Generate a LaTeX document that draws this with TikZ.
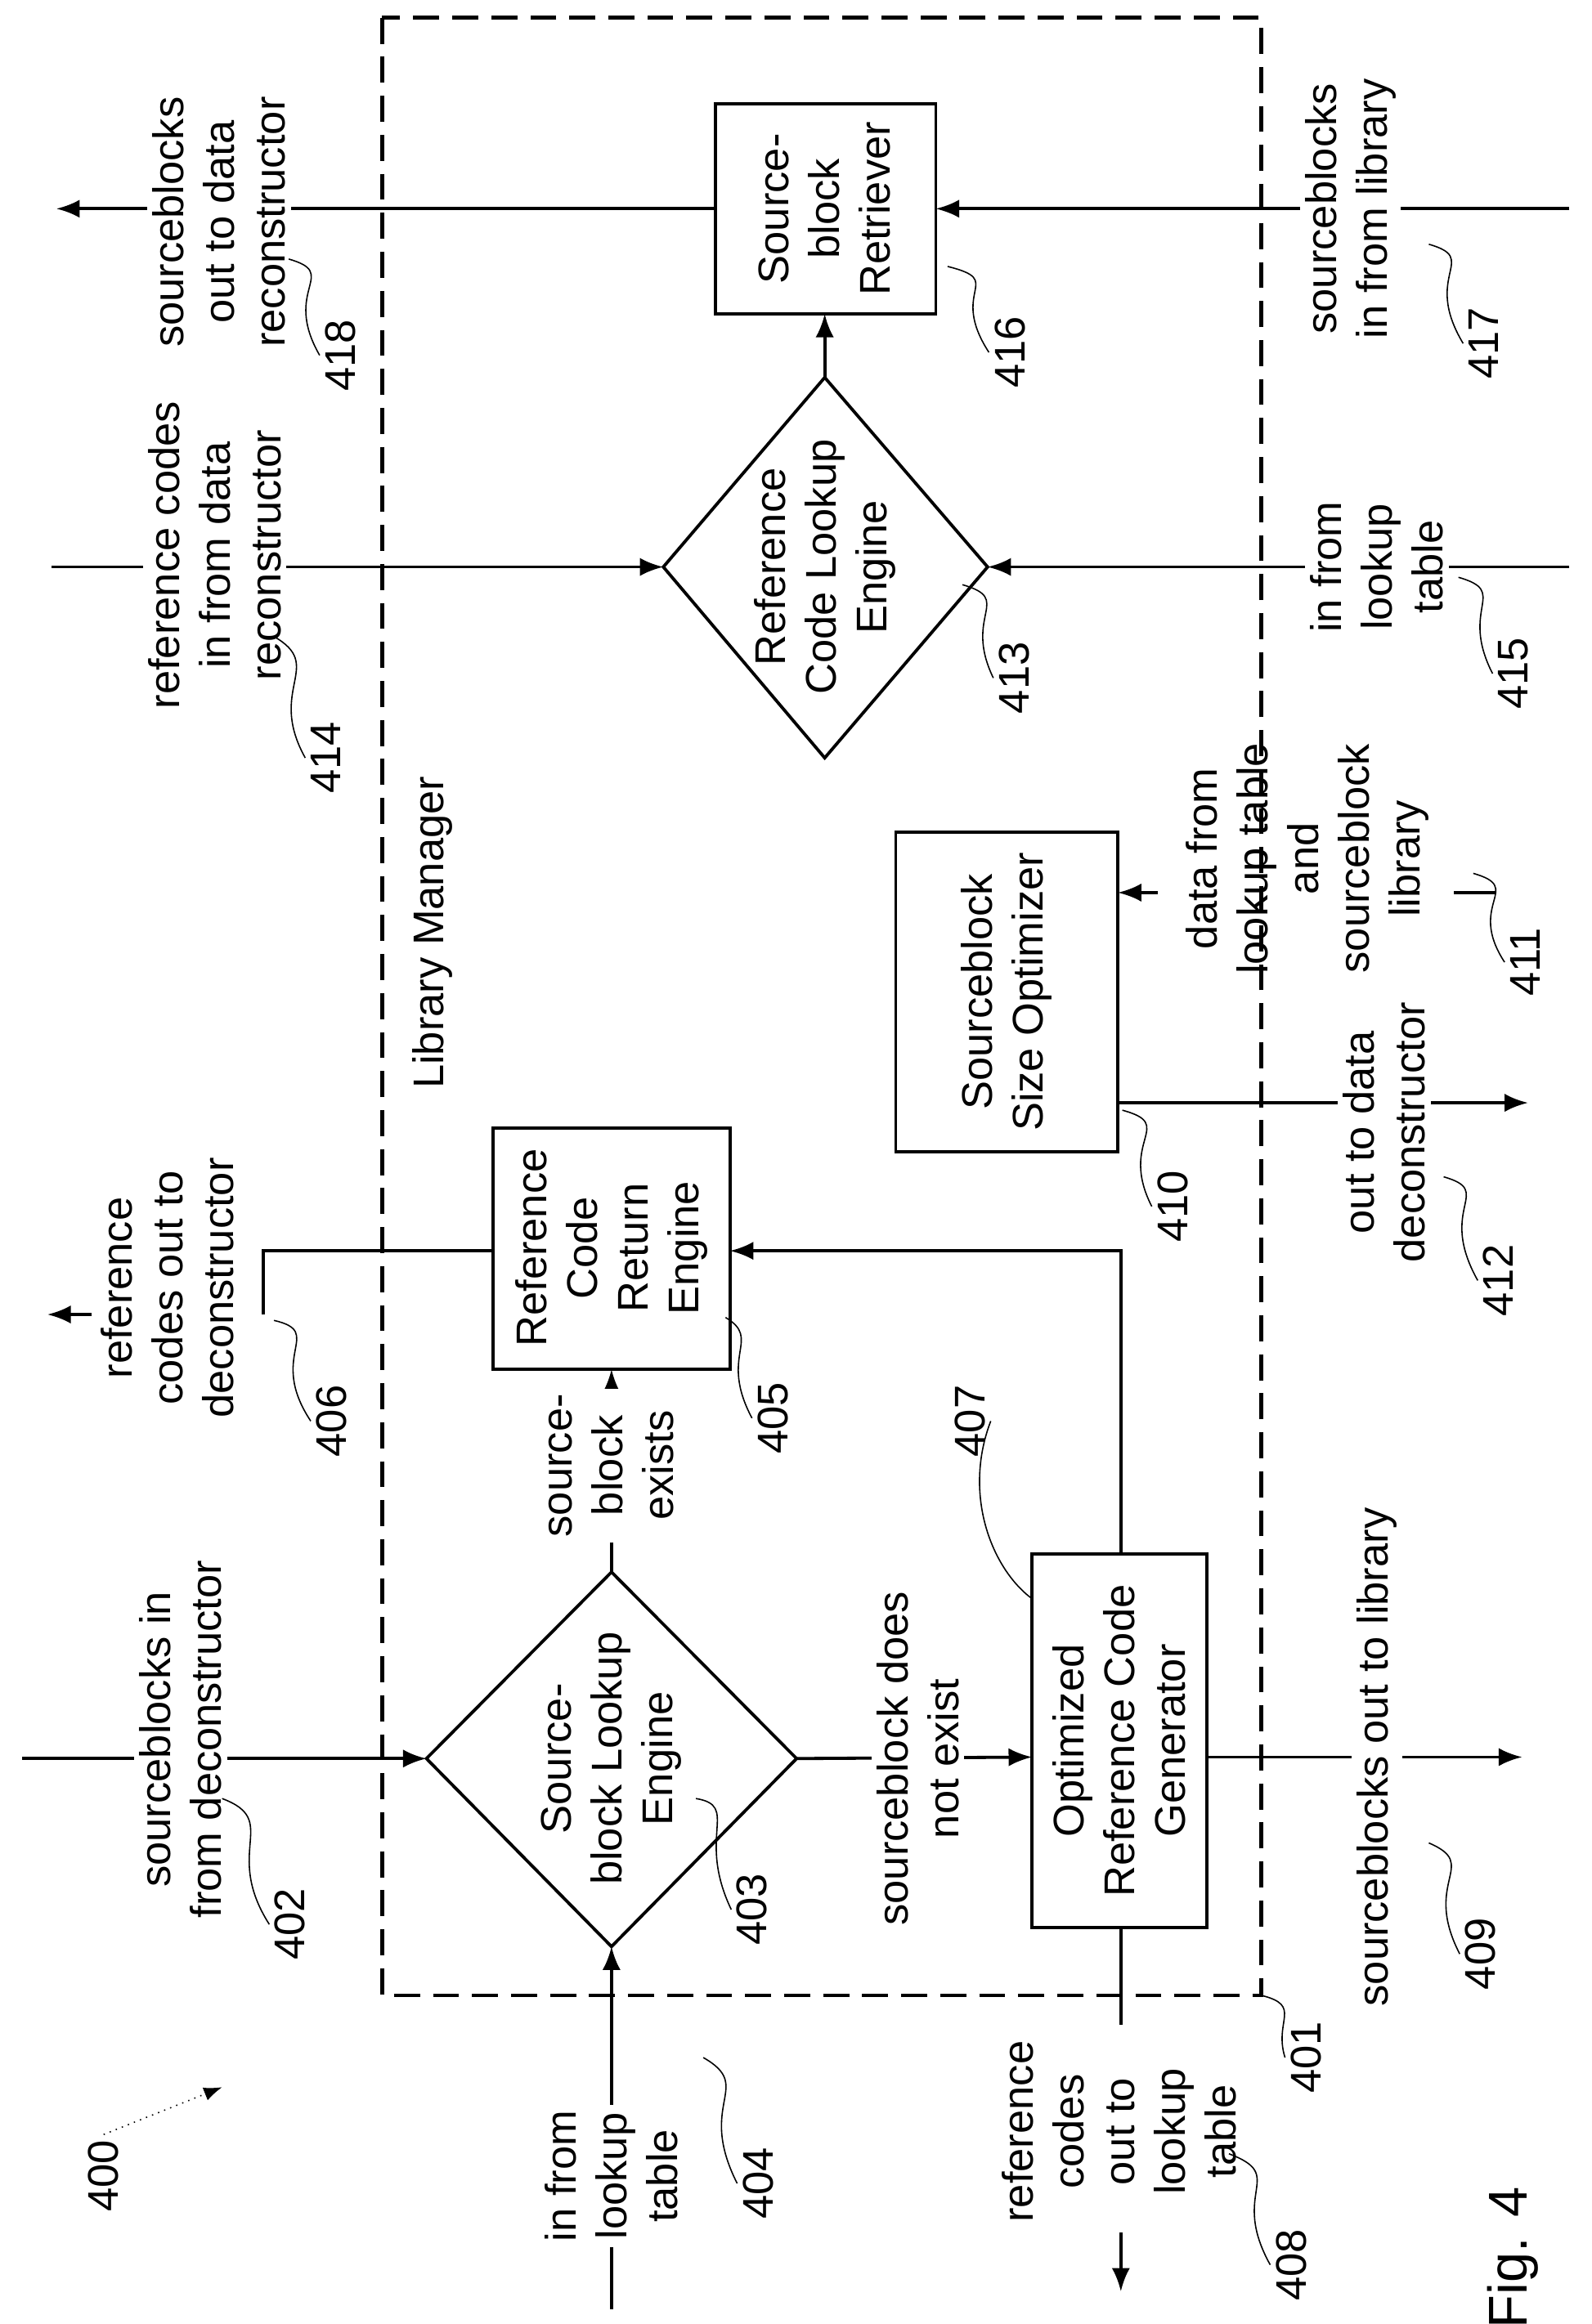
\documentclass[tikz,border=0pt]{standalone}
\usepackage{fontspec}
\setmainfont{Liberation Sans}
\usetikzlibrary{shapes.geometric,arrows.meta}
\begin{document}
\begin{tikzpicture}[x=0.02cm,y=-0.02cm,
  every node/.style={font=\fontsize{16.5}{19.5}\selectfont},
  txt/.style={rotate=90,align=center,inner sep=2pt},
  wtxt/.style={txt,fill=white},
  arr/.style={line width=1.2pt,-{Latex[length=9pt,width=7pt]}},
  ln/.style={line width=1.2pt},
  sq/.style={line width=0.5pt}]
\useasboundingbox (0,0) rectangle (1075,1570);
% library manager
\draw[line width=1.5pt,dash pattern=on 10pt off 5pt] (258,12) rectangle (852,1348);
\node[txt] (lm) at (292,630) {Library Manager};
% boxes
\draw[ln] (483,70) rectangle (632,212);
\node[txt] (b416) at (557,141) {Source-\\block\\Retriever};
\coordinate (b416l) at (483,141); \coordinate (b416r) at (632,141); \coordinate (b416b) at (557,212);
\draw[ln] (333,762) rectangle (493,925);
\node[txt] (b405) at (413,843) {Reference\\Code\\Return\\Engine};
\coordinate (b405l) at (333,845); \coordinate (b405r) at (493,845); \coordinate (b405b) at (413,925);
\draw[ln] (605,562) rectangle (755,778);
\node[txt] (b410) at (680,670) {Sourceblock\\Size Optimizer};
\coordinate (b410a) at (755,745); \coordinate (b410b) at (755,603);
\draw[ln] (697,1050) rectangle (815,1302);
\node[txt] (b407) at (756,1176) {Optimized\\Reference Code\\Generator};
\coordinate (b407t) at (757,1050); \coordinate (b407l) at (697,1187); \coordinate (b407r) at (815,1187); \coordinate (b407b) at (757,1302);
% diamonds
\draw[ln] (288,1188) -- (413,1062) -- (538,1188) -- (413,1315) -- cycle;
\node[txt] (d403) at (413,1188) {Source-\\block Lookup\\Engine};
\coordinate (d403l) at (288,1188); \coordinate (d403t) at (413,1062); \coordinate (d403r) at (538,1188); \coordinate (d403b) at (413,1315);
\draw[ln] (448,383) -- (557,255) -- (667,383) -- (557,512) -- cycle;
\node[txt] (d413) at (557,383) {Reference\\Code Lookup\\Engine};
\coordinate (d413l) at (448,383); \coordinate (d413t) at (557,255); \coordinate (d413r) at (667,383);
% free ends
\coordinate (e1) at (15,1188); \coordinate (e2) at (413,1560);
\coordinate (c1) at (757,845); \coordinate (c2) at (178,845); \coordinate (c3) at (178,888);
\coordinate (a1) at (62,888); \coordinate (a2) at (32,888);
\coordinate (e3) at (1028,1187);
\coordinate (c4) at (757,1368); \coordinate (a3) at (757,1508); \coordinate (a4) at (757,1548);
\coordinate (e4) at (1032,745);
\coordinate (a5) at (782,603); \coordinate (l1) at (982,603); \coordinate (l2) at (1010,603);
\coordinate (e5) at (35,383); \coordinate (e6) at (1060,383);
\coordinate (e7) at (38,141); \coordinate (e8) at (1060,141);
% connectors
\draw[arr] (e1) -- (d403l);
\draw[arr] (e2) -- (d403b);
\draw[arr] (d403t) -- (b405b);
\draw[arr] (d403r) -- (b407l);
\draw[arr] (b407t) -- (c1) -- (b405r);
\draw[ln] (b405l) -- (c2) -- (c3);
\draw[arr] (a1) -- (a2);
\draw[arr] (b407r) -- (e3);
\draw[ln] (b407b) -- (c4);
\draw[arr] (a3) -- (a4);
\draw[arr] (b410a) -- (e4);
\draw[arr] (a5) -- (b410b);
\draw[ln] (l1) -- (l2);
\draw[arr] (e5) -- (d413l);
\draw[arr] (e6) -- (d413r);
\draw[arr] (d413t) -- (b416b);
\draw[arr] (b416l) -- (e7);
\draw[arr] (e8) -- (b416r);
% labels
\node[wtxt] (t402) at (122,1175) {sourceblocks in\\from deconstructor};
\node[wtxt] (t404) at (413,1470) {in from\\lookup\\table};
\node[wtxt] (t403e) at (413,990) {source-\\block\\exists};
\node[wtxt] (t407n) at (620,1188) {sourceblock does\\not exist};
\node[txt] (t406) at (113,870) {reference\\codes out to\\deconstructor};
\node[wtxt] (t409) at (930,1187) {sourceblocks out to library};
\node[txt] (t408) at (756,1440) {reference\\codes\\out to\\lookup\\table};
\node[wtxt] (t412) at (935,765) {out to data\\deconstructor};
\node[txt] (t411) at (883,580) {data from\\lookup table\\and\\sourceblock\\library};
\node[wtxt] (t414) at (145,375) {reference codes\\in from data\\reconstructor};
\node[wtxt] (t415) at (930,383) {in from\\lookup\\table};
\node[wtxt] (t418) at (148,150) {sourceblocks\\out to data\\reconstructor};
\node[wtxt] (t417) at (912,141) {sourceblocks\\in from library};
% numbers
\node[txt] (n402) at (196,1300) {402};
\node[txt] (n403) at (508,1290) {403};
\node[txt] (n404) at (512,1475) {404};
\node[txt] (n405) at (522,958) {405};
\node[txt] (n406) at (224,960) {406};
\node[txt] (n407) at (655,960) {407};
\node[txt] (n408) at (872,1530) {408};
\node[txt] (n409) at (1000,1320) {409};
\node[txt] (n401) at (882,1390) {401};
\node[txt] (n410) at (792,815) {410};
\node[txt] (n411) at (1030,650) {411};
\node[txt] (n412) at (1012,865) {412};
\node[txt] (n413) at (685,458) {413};
\node[txt] (n414) at (220,512) {414};
\node[txt] (n415) at (1022,455) {415};
\node[txt] (n416) at (682,238) {416};
\node[txt] (n417) at (1002,232) {417};
\node[txt] (n418) at (230,240) {418};
\node[txt] (n400) at (70,1470) {400};
\node[txt,font=\fontsize{21}{25}\selectfont] (fig) at (1022,1525) {Fig. 4};
% squiggles
\draw[sq] (n402.north) .. controls (150,1250) and (190,1230) .. (150,1215);
\draw[sq] (n403.north) .. controls (470,1240) and (500,1220) .. (470,1215);
\draw[sq] (n404.north) .. controls (470,1420) and (510,1410) .. (475,1390);
\draw[sq] (n405.north) .. controls (485,915) and (515,905) .. (490,890);
\draw[sq] (n406.north) .. controls (180,915) and (220,900) .. (185,892);
\draw[sq] (n407.south) .. controls (650,1010) and (670,1060) .. (697,1080);
\draw[sq] (n408.north) .. controls (830,1480) and (870,1470) .. (830,1455);
\draw[sq] (n409.north) .. controls (960,1270) and (1000,1260) .. (965,1245);
\draw[sq] (n401.north) .. controls (860,1365) and (880,1355) .. (852,1348);
\draw[sq] (n410.north) .. controls (755,770) and (795,760) .. (758,750);
\draw[sq] (n411.north) .. controls (990,610) and (1030,600) .. (995,590);
\draw[sq] (n412.north) .. controls (970,815) and (1010,805) .. (975,795);
\draw[sq] (n413.north) .. controls (650,415) and (685,405) .. (650,395);
\draw[sq] (n414.north) .. controls (180,465) and (220,450) .. (185,430);
\draw[sq] (n415.north) .. controls (985,410) and (1020,400) .. (985,390);
\draw[sq] (n416.north) .. controls (640,195) and (680,190) .. (640,180);
\draw[sq] (n417.north) .. controls (960,185) and (1000,175) .. (965,165);
\draw[sq] (n418.north) .. controls (190,195) and (230,185) .. (195,175);
\draw[sq,dotted,-{Latex[length=7pt]}] (n400.east) -- (150,1410);
\end{tikzpicture}
\end{document}
